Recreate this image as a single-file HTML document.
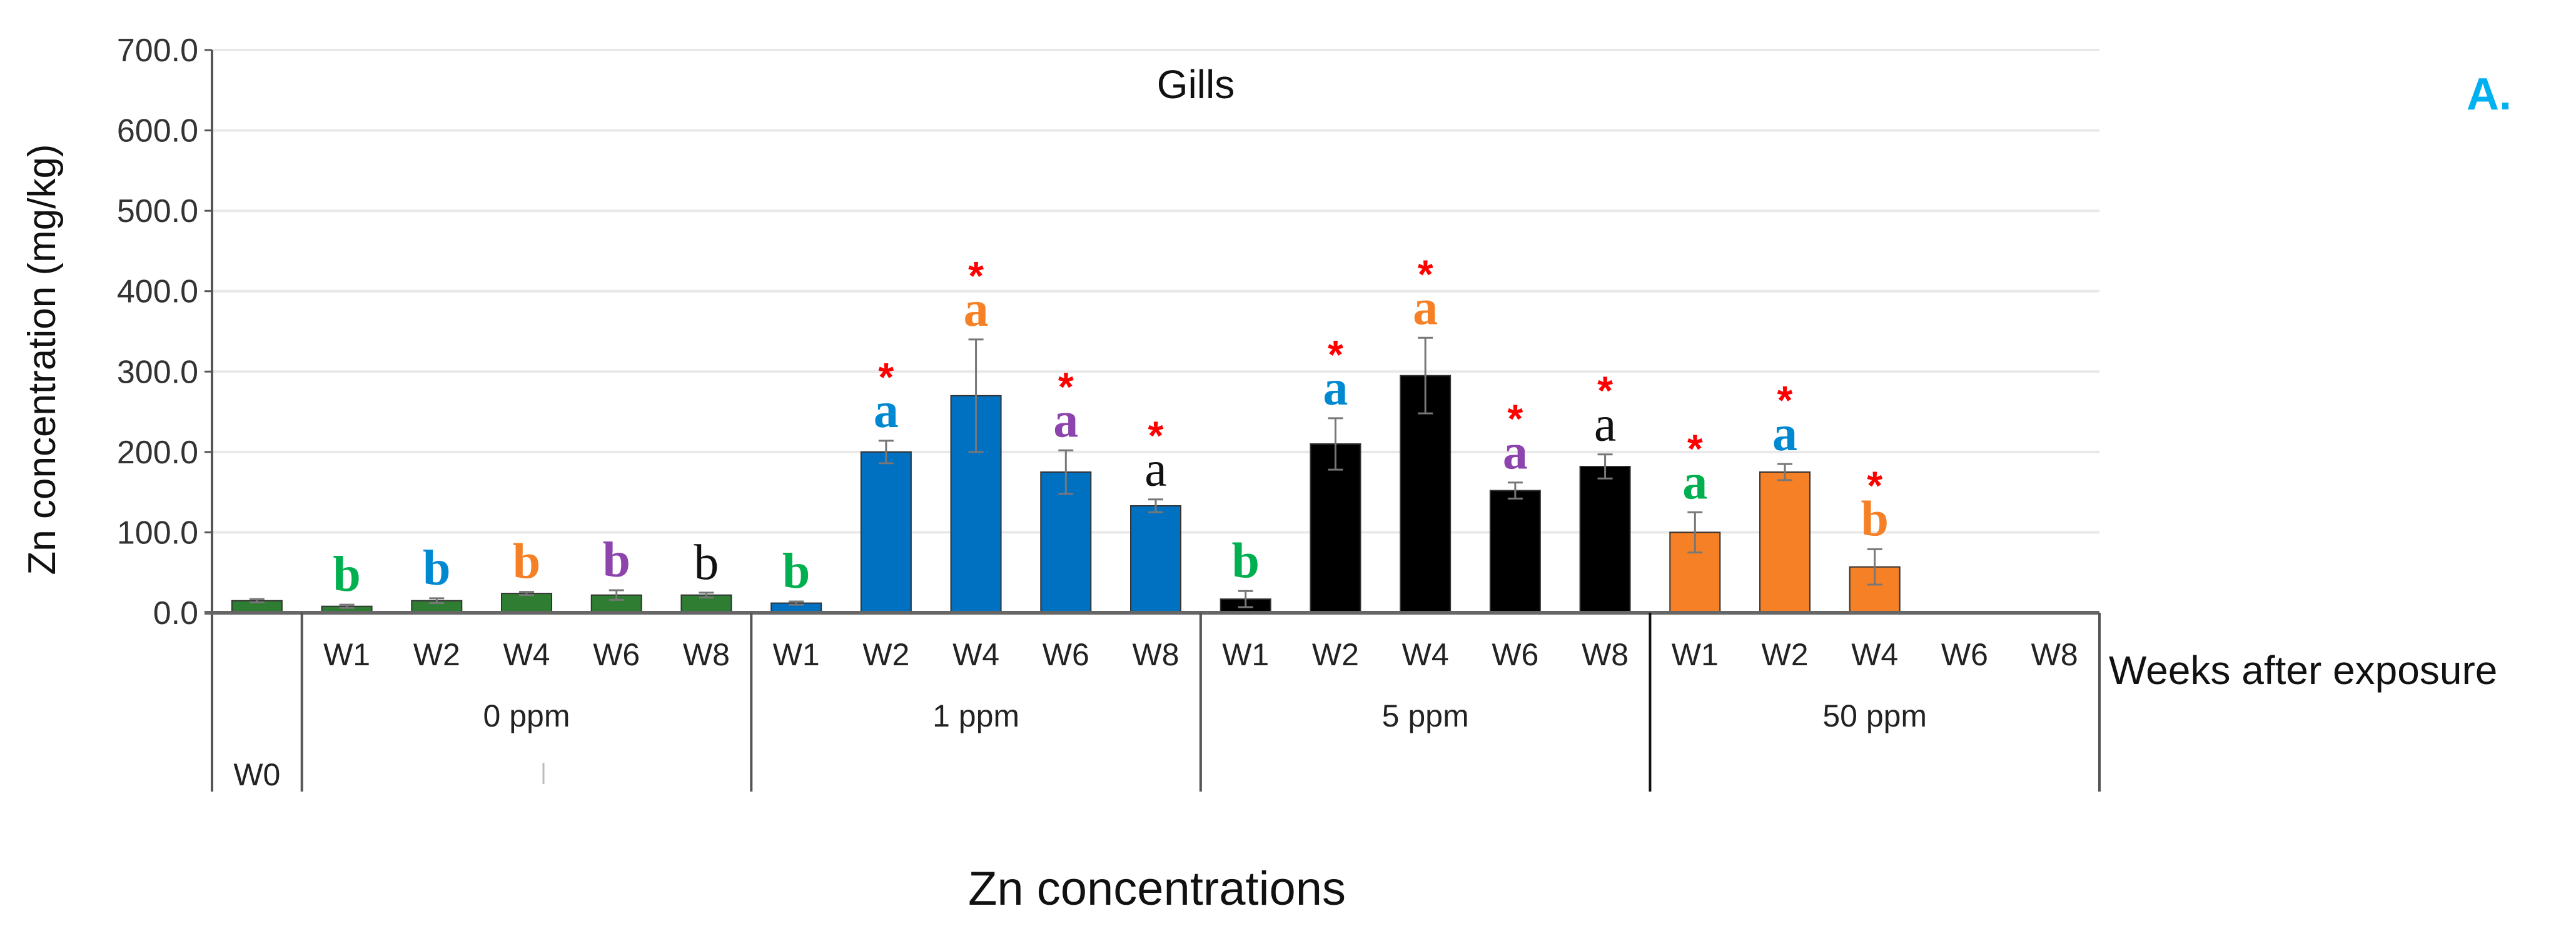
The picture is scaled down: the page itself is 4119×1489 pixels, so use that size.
<!DOCTYPE html>
<html><head><meta charset="utf-8"><style>
html,body{margin:0;padding:0;background:#fff;}
svg{display:block;}
text{font-family:"Liberation Sans",sans-serif;}
text.serif{font-family:"Liberation Serif",serif;}
</style></head><body>
<svg id="chart" width="4119" height="1489" viewBox="0 0 4119 1489" xmlns="http://www.w3.org/2000/svg">
<g id="grid"></g>
<g id="bars"></g>
<g id="axes"></g>
<g id="labels"></g>
<text x="1912" y="157" font-size="64" text-anchor="middle" fill="#111">Gills</text>
<text x="3980" y="175" font-size="72" font-weight="bold" text-anchor="middle" fill="#00b0f0">A.</text>
<text x="3372" y="1094" font-size="64" fill="#111">Weeks after exposure</text>
<text x="1850" y="1447" font-size="76" text-anchor="middle" fill="#111">Zn concentrations</text>
<text transform="translate(88,575) rotate(-90)" font-size="62" text-anchor="middle" fill="#111">Zn concentration (mg/kg)</text>
</svg>
<script>
const categories = ["W0","W1","W2","W4","W6","W8","W1","W2","W4","W6","W8","W1","W2","W4","W6","W8","W1","W2","W4","W6","W8"];
const groups = ["","0 ppm","0 ppm","0 ppm","0 ppm","0 ppm","1 ppm","1 ppm","1 ppm","1 ppm","1 ppm","5 ppm","5 ppm","5 ppm","5 ppm","5 ppm","50 ppm","50 ppm","50 ppm","50 ppm","50 ppm"];
const values = [15,8,15,24,22,22, 12,200,270,175,133, 17,210,295,152,182, 100,175,57,null,null];
const errors = [2,2,3,2,6,3, 2,14,70,27,8, 10,32,47,10,15, 25,10,22,null,null];
const letters = ["","b","b","b","b","b", "b","a","a","a","a", "b","a","a","a","a", "a","a","b","",""];
const stars = [0,0,0,0,0,0, 0,1,1,1,1, 0,1,1,1,1, 1,1,1,0,0];
const yTicks = [0,100,200,300,400,500,600,700];
const groupNames = ["0 ppm","1 ppm","5 ppm","50 ppm"];

const NS="http://www.w3.org/2000/svg";
const X0=339, X1=3357, Y0=980, YTOP=80, YMAX=700, AXB=1266;
const slot=(X1-X0)/categories.length;
function y(v){return Y0-(v/YMAX)*(Y0-YTOP);}
function xc(i){return X0+slot*(i+0.5);}
function mk(tag,attrs,parent){const e=document.createElementNS(NS,tag);for(const k in attrs)e.setAttribute(k,attrs[k]);parent.appendChild(e);return e;}
const grid=document.getElementById('grid'),bars=document.getElementById('bars'),axes=document.getElementById('axes'),labels=document.getElementById('labels');
const barColors={"":"#2e7d32","0 ppm":"#2e7d32","1 ppm":"#0070c0","5 ppm":"#000000","50 ppm":"#f58025"};
const letterColors=["#00b050","#0088d0","#f58025","#8e44ad","#111111"];

yTicks.forEach(t=>{
  if(t>0){const g=mk('line',{x1:X0,x2:X1,y1:y(t),y2:y(t),stroke:'#e8e8e8','stroke-width':4},grid);
  
  }
  const tk=mk('line',{x1:X0-12,x2:X0,y1:y(t),y2:y(t),stroke:'#555','stroke-width':3},axes);
  
  
  const tl=mk('text',{x:X0-22,y:y(t)+18,'font-size':52,'text-anchor':'end',fill:'#333'},labels);
  tl.textContent=t.toFixed(1);
  
  
});

categories.forEach((c,i)=>{
  const cx=xc(i), bw=80;
  const v=values[i];
  if(v!==null){
    const b=mk('rect',{x:cx-bw/2,y:y(v),width:bw,height:Y0-y(v),fill:barColors[groups[i]],stroke:'#333','stroke-width':2},bars);
    
    
    const e=errors[i];
    const eb=mk('path',{d:`M${cx},${y(v-e)}V${y(v+e)}M${cx-12},${y(v+e)}H${cx+12}M${cx-12},${y(v-e)}H${cx+12}`,stroke:'#777','stroke-width':3,fill:'none'},bars);
    
    
    const top=y(v+e);
    if(letters[i]){
      const lt=mk('text',{x:cx,y:top-22,'font-size':80,'font-weight':'bold','text-anchor':'middle',fill:letterColors[(i-1)%5],'class':'serif'},labels);
      lt.textContent=letters[i];
      if((i-1)%5===4) lt.setAttribute('font-weight','normal');
      
      
    }
    if(stars[i]){
      const st=mk('text',{x:cx,y:top-22-58,'font-size':64,'font-weight':'bold','text-anchor':'middle',fill:'#ff0000'},labels);
      st.textContent='*';
      
      
    }
  }
  const cl=mk('text',{x:cx,y:i===0?1256:1064,'font-size':50,'text-anchor':'middle',fill:'#222'},labels);
  cl.textContent=c;
  
  
});

groupNames.forEach((g,k)=>{
  const cx=X0+slot*(1+5*k+2.5);
  const gl=mk('text',{x:cx,y:1162,'font-size':50,'text-anchor':'middle',fill:'#222'},labels);
  gl.textContent=g;
  
  
});

const yax=mk('line',{x1:X0,x2:X0,y1:YTOP,y2:AXB,stroke:'#555','stroke-width':4},axes);


const xax=mk('line',{x1:X0-12,x2:X1,y1:Y0,y2:Y0,stroke:'#666','stroke-width':6},axes);


[1,6,11,16,21].forEach(b=>{
  const xx=X0+slot*b;
  const s=mk('line',{x1:xx,x2:xx,y1:Y0,y2:AXB,stroke:b===16?'#111':'#555','stroke-width':4},axes);
  
  
});
const sm=mk('line',{x1:869,x2:869,y1:1220,y2:1254,stroke:'#bbb','stroke-width':3},axes);


</script>
</body></html>
